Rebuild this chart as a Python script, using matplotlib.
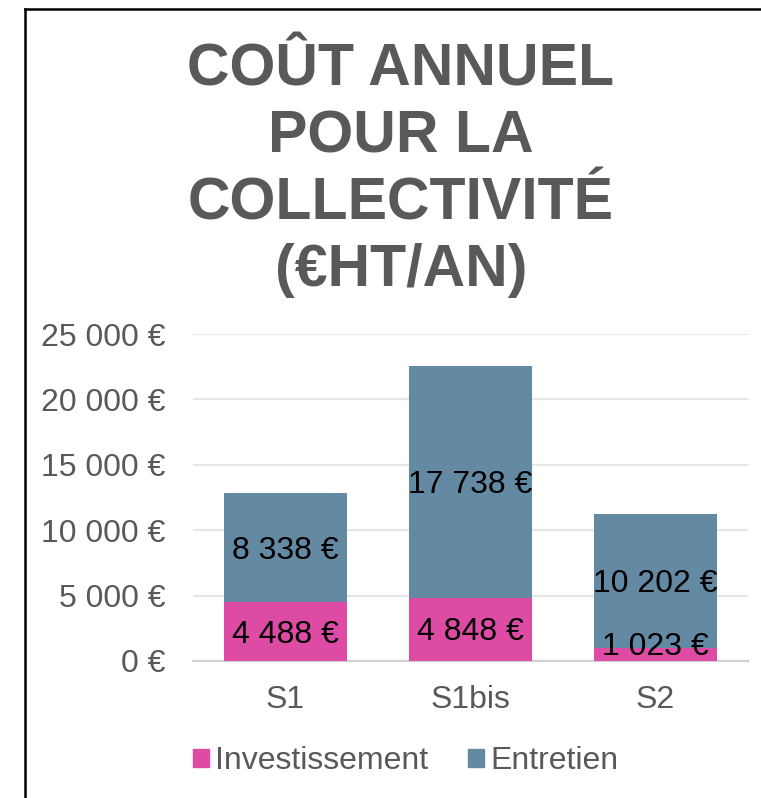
import matplotlib
matplotlib.use("Agg")
import matplotlib.pyplot as plt
from matplotlib.lines import Line2D
from matplotlib.patches import Patch
from matplotlib.ticker import FuncFormatter

categories = ["S1", "S1bis", "S2"]
investissement = [4488, 4848, 1023]
entretien = [8338, 17738, 10202]
series_names = ["Investissement", "Entretien"]
y_ticks = [0, 5000, 10000, 15000, 20000, 25000]
title = "COÛT ANNUEL\nPOUR LA\nCOLLECTIVITÉ\n(€HT/AN)"

PINK = "#DD4BA5"
BLUE = "#6389A3"
GREY = "#595959"
FS = 23

plt.rcParams["font.family"] = ["Liberation Sans", "DejaVu Sans"]


def euro(v, _=None):
    return f"{v:,.0f}".replace(",", " ") + " €"


fig = plt.figure(figsize=(7.61, 7.98), dpi=100)
ax = fig.add_axes([193 / 761, 1 - 661 / 798, 555 / 761, 327 / 798])

x = list(range(len(categories)))
w = 0.665
b1 = ax.bar(x, investissement, w, color=PINK, label=series_names[0], zorder=3)
b2 = ax.bar(x, entretien, w, bottom=investissement, color=BLUE,
            label=series_names[1], zorder=3)
for bars in (b1, b2):
    anns = ax.bar_label(bars, labels=[euro(v) for v in bars.datavalues],
                        label_type="center", fontsize=FS, color="black", zorder=4)
    for a, v in zip(anns, bars.datavalues):
        # petit segment : l'étiquette remonte pour rester dans la zone de tracé
        a.xyann = (0, 5) if v < 2000 else (0, -2.2)

ax.set_xlim(-0.5, len(categories) - 0.5)
ax.set_ylim(0, 25000)
ax.set_yticks(y_ticks)
ax.yaxis.set_major_formatter(FuncFormatter(euro))
ax.set_xticks(x)
ax.set_xticklabels(categories)
ax.tick_params(axis="y", length=0, pad=20, labelsize=FS, labelcolor=GREY)
ax.tick_params(axis="x", length=0, pad=17, labelsize=FS, labelcolor=GREY)
ax.grid(axis="y", color="#E6E6E6", lw=1.5, zorder=0)
for s in ("top", "right", "left"):
    ax.spines[s].set_visible(False)
ax.spines["bottom"].set_color("#D0D0D0")
ax.spines["bottom"].set_linewidth(1.5)

fig.text(401 / 761, 1 - 42 / 798, title, ha="center", va="top",
         fontsize=42.5, fontweight="bold", color=GREY, linespacing=1.28)

handles = [Patch(color=PINK), Patch(color=BLUE)]
fig.legend(handles, series_names, loc="center", bbox_to_anchor=(406 / 761, 1 - 761 / 798),
           ncol=2, frameon=False, fontsize=FS, labelcolor=GREY,
           handlelength=0.5, handleheight=0.5, handletextpad=0.2, columnspacing=1.25)

# cadre noir haut / gauche
fig.add_artist(Line2D([25 / 761, 1], [1 - 8.5 / 798, 1 - 8.5 / 798], color="black", lw=1.8))
fig.add_artist(Line2D([25 / 761, 25 / 761], [0, 1 - 8.5 / 798], color="black", lw=1.8))

fig.savefig("out.png", dpi=100)
